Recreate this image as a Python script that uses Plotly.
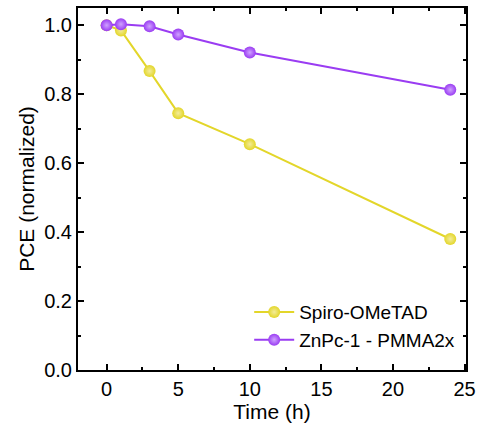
import plotly.graph_objects as go

time_h = [0, 1, 3, 5, 10, 24]
spiro = [1.0, 0.985, 0.867, 0.745, 0.655, 0.38]
znpc = [1.0, 1.003, 0.997, 0.973, 0.921, 0.813]

names = ["Spiro-OMeTAD", "ZnPc-1 - PMMA2x"]
colors = ["#E3D62A", "#9A3CF2"]
highlights = ["#F3EC9A", "#CFA2FF"]

FONT = "Liberation Sans, Arial, sans-serif"

fig = go.Figure()
for name, ys, c, h in zip(names, [spiro, znpc], colors, highlights):
    fig.add_trace(go.Scatter(
        x=time_h, y=ys, name=name, mode="lines+markers",
        line=dict(color=c, width=2),
        marker=dict(size=12, color=c, line=dict(width=0),
                    gradient=dict(type="radial", color=h)),
    ))

axis_common = dict(
    showline=True, linecolor="black", linewidth=2, mirror="ticks",
    ticks="inside", ticklen=6, tickwidth=1.5, tickcolor="black",
    showgrid=False, zeroline=False,
    tickfont=dict(family=FONT, size=20, color="black"),
)

fig.update_xaxes(range=[-2, 25.1], tickvals=[0, 5, 10, 15, 20, 25],
                 minor=dict(ticks="inside", ticklen=3, tickcolor="black", dtick=2.5, tick0=0),
                 title_text="Time (h)", title_standoff=1,
                 title_font=dict(family=FONT, size=21, color="black"), **axis_common)
fig.update_yaxes(range=[0, 1.05], tickvals=[0, 0.2, 0.4, 0.6, 0.8, 1.0],
                 tickformat=".1f",
                 minor=dict(ticks="inside", ticklen=3, tickcolor="black", dtick=0.1, tick0=0),
                 title_text="PCE (normalized)", title_standoff=4,
                 title_font=dict(family=FONT, size=21, color="black"), **axis_common)

fig.update_layout(
    width=482, height=432,
    margin=dict(l=78, r=15, t=6, b=62),
    paper_bgcolor="white", plot_bgcolor="white",
    font=dict(family=FONT, size=19, color="black"),
    legend=dict(x=0.985, y=0.03, xanchor="right", yanchor="bottom",
                bgcolor="rgba(0,0,0,0)", font=dict(family=FONT, size=19),
                tracegroupgap=0, itemwidth=40),
    showlegend=True,
)

fig.write_html("out.html")
